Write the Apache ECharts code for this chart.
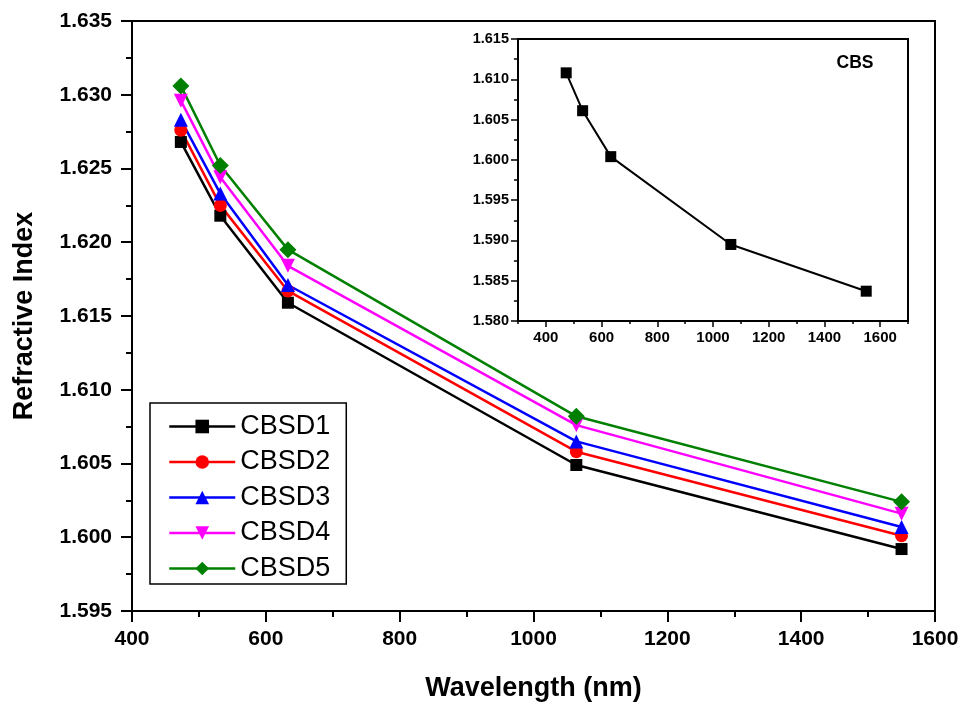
<!DOCTYPE html>
<html><head><meta charset="utf-8">
<script src="https://cdn.jsdelivr.net/npm/echarts@6/dist/echarts.min.js"></script>
<style>html,body{margin:0;padding:0;background:#fff}#c{width:962px;height:709px}</style>
</head><body><div id="c"></div>
<script>
const wavelengths = [473, 532, 633, 1064, 1550];
const CBSD1 = [1.6268, 1.6218, 1.6159, 1.6049, 1.5992];
const CBSD2 = [1.6276, 1.6225, 1.6167, 1.6058, 1.6001];
const CBSD3 = [1.6283, 1.6233, 1.6171, 1.6065, 1.6007];
const CBSD4 = [1.6296, 1.6244, 1.6184, 1.6076, 1.6016];
const CBSD5 = [1.6306, 1.6252, 1.6195, 1.6082, 1.6024];
const CBS = [1.6108, 1.6061, 1.6004, 1.5895, 1.5837];
const insetMajorX = [400, 600, 800, 1000, 1200, 1400, 1600];
const insetMinorX = [300, 500, 700, 900, 1100, 1300, 1500, 1700];

const F = 'Liberation Sans, Arial, sans-serif';
const pair = arr => wavelengths.map((w, i) => [w, arr[i]]);

const mainSeries = [
  {name: 'CBSD1', data: CBSD1, color: '#000000', symbol: 'rect', size: 12, rot: 0},
  {name: 'CBSD2', data: CBSD2, color: '#ff0000', symbol: 'circle', size: 13, rot: 0},
  {name: 'CBSD3', data: CBSD3, color: '#0000ff', symbol: 'triangle', size: 14, rot: 0},
  {name: 'CBSD4', data: CBSD4, color: '#ff00ff', symbol: 'triangle', size: 14, rot: 180},
  {name: 'CBSD5', data: CBSD5, color: '#008000', symbol: 'diamond', size: 17, rot: 0}
];

const axisLineStyle = {color: '#000', width: 2};
const plain = v => String(v);
const chart = echarts.init(document.getElementById('c'), null, {renderer: 'canvas'});
chart.setOption({
  animation: false,
  backgroundColor: '#fff',
  grid: [
    {left: 132, right: 27, top: 21, bottom: 98, show: true, borderColor: '#000', borderWidth: 2, backgroundColor: 'transparent'},
    {left: 518, right: 54, top: 39, bottom: 388, show: true, borderColor: '#000', borderWidth: 2, backgroundColor: 'transparent'}
  ],
  legend: {
    data: mainSeries.map(s => s.name),
    orient: 'vertical', left: 150, top: 403,
    itemWidth: 66, itemHeight: 17, itemGap: 8.5,
    padding: [10, 16, 2, 18],
    borderColor: '#000', borderWidth: 1.5,
    backgroundColor: '#fff',
    lineStyle: {width: 2.5},
    textStyle: {fontFamily: F, fontSize: 27, color: '#000', lineHeight: 27},
    symbolRotate: 'inherit'
  },
  xAxis: [
    {gridIndex: 0, type: 'value', min: 400, max: 1600, interval: 200,
     name: 'Wavelength (nm)', nameLocation: 'middle', nameGap: 64,
     nameTextStyle: {fontFamily: F, fontSize: 27, fontWeight: 'bold', color: '#000'},
     axisLine: {lineStyle: axisLineStyle}, axisTick: {inside: false, length: 11, lineStyle: {width: 2, color: '#000'}},
     minorTick: {show: true, splitNumber: 2, length: 6, lineStyle: {width: 2, color: '#000'}},
     splitLine: {show: false},
     axisLabel: {fontFamily: F, fontSize: 21, fontWeight: 'bold', color: '#000', margin: 18, formatter: plain}},
    {gridIndex: 1, type: 'value', min: 300, max: 1700,
     axisLine: {lineStyle: axisLineStyle},
     axisTick: {inside: false, length: 6, lineStyle: {width: 1.5, color: '#000'}, customValues: insetMajorX},
     splitLine: {show: false},
     axisLabel: {fontFamily: F, fontSize: 15, fontWeight: 'bold', color: '#000', margin: 9, customValues: insetMajorX, formatter: plain}},
    {gridIndex: 1, type: 'value', min: 300, max: 1700, position: 'bottom',
     axisLine: {show: false},
     axisTick: {inside: false, length: 3, lineStyle: {width: 1.5, color: '#000'}, customValues: insetMinorX},
     splitLine: {show: false},
     axisLabel: {show: false, customValues: insetMinorX}}
  ],
  yAxis: [
    {gridIndex: 0, type: 'value', min: 1.595, max: 1.635, interval: 0.005,
     name: 'Refractive Index', nameLocation: 'middle', nameGap: 94, nameRotate: 90,
     nameTextStyle: {fontFamily: F, fontSize: 27, fontWeight: 'bold', color: '#000'},
     axisLine: {show: true, lineStyle: axisLineStyle}, axisTick: {show: true, inside: false, length: 11, lineStyle: {width: 2, color: '#000'}},
     minorTick: {show: true, splitNumber: 2, length: 6, lineStyle: {width: 2, color: '#000'}},
     splitLine: {show: false},
     axisLabel: {fontFamily: F, fontSize: 21, fontWeight: 'bold', color: '#000', margin: 20, formatter: v => v.toFixed(3)}},
    {gridIndex: 1, type: 'value', min: 1.580, max: 1.615, interval: 0.005,
     axisLine: {show: true, lineStyle: axisLineStyle}, axisTick: {show: true, inside: false, length: 7, lineStyle: {width: 1.5, color: '#000'}},
     minorTick: {show: true, splitNumber: 2, length: 4, lineStyle: {width: 1.5, color: '#000'}},
     splitLine: {show: false},
     axisLabel: {fontFamily: F, fontSize: 14.5, fontWeight: 'bold', color: '#000', margin: 9, formatter: v => v.toFixed(3)}}
  ],
  graphic: [
    {type: 'text', x: 855, y: 63, style: {text: 'CBS', font: 'bold 17.5px ' + F, fill: '#000', align: 'center', verticalAlign: 'middle'}}
  ],
  series: mainSeries.map(s => ({
    name: s.name, type: 'line', xAxisIndex: 0, yAxisIndex: 0,
    data: pair(s.data), symbol: s.symbol, symbolSize: s.size, symbolRotate: s.rot,
    showAllSymbol: true,
    lineStyle: {color: s.color, width: 2.5}, itemStyle: {color: s.color, borderWidth: 0}, color: s.color
  })).concat([{
    name: 'CBS', type: 'line', xAxisIndex: 1, yAxisIndex: 1,
    data: pair(CBS), symbol: 'rect', symbolSize: 11,
    lineStyle: {color: '#000', width: 2}, itemStyle: {color: '#000'}
  }])
});
</script></body></html>
